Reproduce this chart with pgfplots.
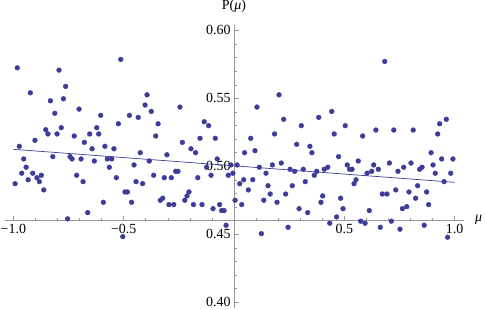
\documentclass[border=0pt]{standalone}
\usepackage{fontspec}
\setmainfont{Liberation Serif}
\usepackage{pgfplots}
\usepackage{pgfplotstable}
\pgfplotsset{compat=1.18}
\definecolor{ptblue}{rgb}{0.24,0.24,0.6}
\definecolor{axgray}{gray}{0.6}
\pgfplotstableread{
x y
-0.982 0.5725
-0.793 0.5708
-0.763 0.5588
-0.923 0.5541
-0.832 0.5482
-0.773 0.5497
-0.702 0.5421
-0.812 0.5390
-0.783 0.5284
-0.853 0.5269
-0.843 0.5238
-0.802 0.5238
-0.724 0.5223
-0.902 0.5191
-0.678 0.5176
-0.973 0.5147
-0.953 0.5054
-0.821 0.5071
-0.743 0.5071
-0.734 0.5054
-0.693 0.5054
-0.942 0.4993
-0.962 0.4949
-0.912 0.4949
-0.992 0.4872
-0.933 0.4901
-0.893 0.4916
-0.873 0.4934
-0.882 0.4887
-0.713 0.4934
-0.684 0.4887
-0.862 0.4826
-0.754 0.4613
-0.513 0.5787
-0.394 0.5526
-0.403 0.5451
-0.375 0.5404
-0.604 0.5375
-0.474 0.5375
-0.434 0.5360
-0.524 0.5313
-0.344 0.5313
-0.622 0.5284
-0.654 0.5238
-0.613 0.5238
-0.355 0.5223
-0.643 0.5129
-0.585 0.5147
-0.544 0.5129
-0.425 0.5100
-0.633 0.5039
-0.574 0.5054
-0.554 0.5054
-0.384 0.5039
-0.453 0.5010
-0.565 0.4993
-0.533 0.4916
-0.364 0.4934
-0.316 0.4916
-0.444 0.4887
-0.414 0.4872
-0.494 0.4811
-0.483 0.4811
-0.464 0.4735
-0.592 0.4735
-0.334 0.4750
-0.323 0.4765
-0.663 0.4659
-0.504 0.4482
-0.245 0.5436
-0.135 0.5328
-0.115 0.5299
-0.154 0.5206
-0.085 0.5206
-0.234 0.5176
-0.195 0.5129
-0.174 0.5100
-0.304 0.5085
-0.076 0.5054
0.048 0.5100
-0.264 0.4963
-0.254 0.4963
-0.284 0.4916
-0.164 0.4916
-0.124 0.4993
-0.104 0.4934
-0.014 0.5010
0.014 0.5010
-0.005 0.4949
-0.026 0.4934
0.026 0.4872
0.044 0.4901
-0.204 0.4811
-0.213 0.4782
-0.223 0.4750
-0.295 0.4718
-0.273 0.4718
-0.184 0.4718
-0.145 0.4718
-0.065 0.4718
-0.095 0.4688
-0.056 0.4674
-0.045 0.4674
0.005 0.4750
0.035 0.4718
-0.036 0.4566
0.204 0.5526
0.104 0.5436
0.225 0.5346
0.384 0.5360
0.305 0.5299
0.184 0.5238
0.076 0.5206
0.284 0.5162
0.344 0.5147
0.353 0.5100
0.095 0.5115
0.115 0.4993
0.174 0.5010
0.214 0.5024
0.254 0.4978
0.275 0.4963
0.314 0.4978
0.375 0.4963
0.409 0.4978
0.145 0.4949
0.364 0.4934
0.085 0.4901
0.323 0.4887
0.154 0.4857
0.264 0.4857
0.065 0.4826
0.164 0.4796
0.234 0.4796
0.402 0.4782
0.135 0.4750
0.195 0.4735
0.394 0.4735
0.295 0.4688
0.334 0.4659
0.245 0.4551
0.124 0.4504
0.683 0.5772
0.443 0.5404
0.504 0.5299
0.643 0.5267
0.724 0.5267
0.454 0.5238
0.583 0.5223
0.474 0.5071
0.563 0.5039
0.513 0.5010
0.704 0.5024
0.633 0.5010
0.425 0.4993
0.524 0.4978
0.535 0.4978
0.654 0.4978
0.769 0.4993
0.624 0.4963
0.603 0.4949
0.743 0.4963
0.553 0.4901
0.544 0.4872
0.733 0.4826
0.672 0.4796
0.693 0.4796
0.483 0.4765
0.494 0.4688
0.613 0.4674
0.763 0.4688
0.465 0.4627
0.434 0.4581
0.574 0.4596
0.594 0.4581
0.713 0.4596
0.663 0.4551
0.752 0.4537
0.962 0.5346
0.932 0.5313
0.923 0.5238
0.812 0.5267
0.893 0.5100
0.941 0.5054
0.992 0.5054
0.802 0.5024
0.902 0.5010
0.852 0.4993
0.841 0.4978
0.912 0.4949
0.982 0.4949
0.952 0.4887
0.832 0.4857
0.793 0.4811
0.873 0.4811
0.823 0.4765
0.783 0.4703
0.882 0.4718
0.862 0.4566
0.968 0.4478
}\pts
\begin{document}
\begin{tikzpicture}
\begin{axis}[
  scale only axis,
  width=459bp, height=282.8bp,
  axis lines=middle,
  axis line style={-, draw=axgray, line width=0.5bp},
  every inner x axis line/.append style={-},
  every inner y axis line/.append style={-},
  y coord trafo/.code={\pgfmathparse{#1-0.46}},
  y coord inv trafo/.code={\pgfmathparse{#1+0.46}},
  xmin=-1.04, xmax=1.04,
  ymin=0.3959, ymax=0.6041,
  xtick={-1,-0.5,0.5,1},
  xticklabels={−1.0,−0.5,0.5,1.0},
  ytick={0.40,0.45,0.50,0.55,0.60},
  yticklabels={0.40,0.45,0.50,0.55,0.60},
  minor xtick={-1,-0.9,-0.8,-0.7,-0.6,-0.5,-0.4,-0.3,-0.2,-0.1,0.1,0.2,0.3,0.4,0.5,0.6,0.7,0.8,0.9,1},
  minor ytick={0.40,0.41,0.42,0.43,0.44,0.45,0.46,0.47,0.48,0.49,0.50,0.51,0.52,0.53,0.54,0.55,0.56,0.57,0.58,0.59,0.60},
  tick align=inside,
  major tick length=5bp, minor tick length=3bp,
  tick style={draw=axgray, line width=0.5bp},
  ticklabel style={font=\fontsize{14}{16}\selectfont, text=black},
  xlabel={\textit{μ}}, ylabel={P(\textit{μ})},
  every axis x label/.style={at={(axis cs:1.04,0.46)}, anchor=west, xshift=8bp, yshift=1bp, font=\fontsize{14}{16}\selectfont},
  every axis y label/.style={at={(axis cs:0,0.6041)}, anchor=base, yshift=15bp, font=\fontsize{14}{16}\selectfont},
  clip=false,
]
\addplot[color=ptblue, only marks, mark=*, mark size=2.4bp, mark options={draw=none, fill=ptblue}] table[x=x, y=y] {\pts};
\addplot[color=ptblue, line width=0.7bp] coordinates {(-1,0.5125) (1,0.4882)};
\coordinate (ll) at (rel axis cs:0,0);
\coordinate (ur) at (rel axis cs:1,1);
\end{axis}
\pgfresetboundingbox
\path ([shift={(-4.5bp,-2.3bp)}]ll) rectangle ([shift={(21.5bp,24.9bp)}]ur);
\end{tikzpicture}
\end{document}
